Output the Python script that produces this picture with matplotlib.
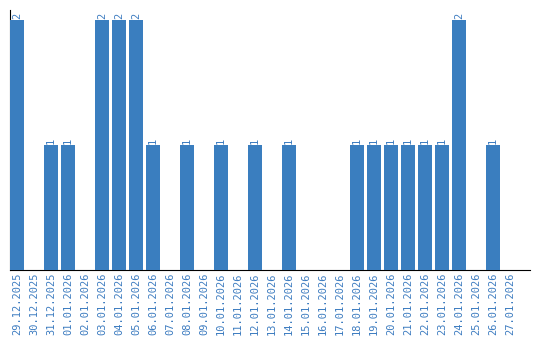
import matplotlib
matplotlib.use("Agg")
import matplotlib.pyplot as plt

dates = [
    "29.12.2025", "30.12.2025", "31.12.2025", "01.01.2026", "02.01.2026",
    "03.01.2026", "04.01.2026", "05.01.2026", "06.01.2026", "07.01.2026",
    "08.01.2026", "09.01.2026", "10.01.2026", "11.01.2026", "12.01.2026",
    "13.01.2026", "14.01.2026", "15.01.2026", "16.01.2026", "17.01.2026",
    "18.01.2026", "19.01.2026", "20.01.2026", "21.01.2026", "22.01.2026",
    "23.01.2026", "24.01.2026", "25.01.2026", "26.01.2026", "27.01.2026",
]
counts = [2, 0, 1, 1, 0, 2, 2, 2, 1, 0, 1, 0, 1, 0, 1,
          0, 1, 0, 0, 0, 1, 1, 1, 1, 1, 1, 2, 0, 1, 0]

BLUE = "#3a7ebf"
TEXT = "#3d7cc0"

fig = plt.figure(figsize=(5.4, 3.4), dpi=100)
ax = fig.add_axes([10 / 540, 70 / 340, 520 / 540, 260 / 340])

x = list(range(len(dates)))
w = 14 / 17
# bars above the left spine so the spine only shows over the first bar's top
ax.bar(x, counts, width=w, align="edge", color=BLUE, zorder=3)

for xi, c in zip(x, counts):
    if c > 0:
        ax.text(xi + w / 2, c + 0.01, str(c), rotation=90, ha="center",
                va="bottom", color=TEXT, fontsize=7.5, family="DejaVu Sans Mono")

ax.set_xlim(0, 520 / 17)
ax.set_ylim(0, 2.08)
ax.set_xticks([xi + w / 2 for xi in x])
ax.set_xticklabels(dates, rotation=90, color=TEXT, fontsize=7.5,
                   family="DejaVu Sans Mono")
ax.tick_params(axis="x", length=0, pad=2)
ax.set_yticks([])
ax.spines["top"].set_visible(False)
ax.spines["right"].set_visible(False)

fig.savefig("out.png", dpi=100)
